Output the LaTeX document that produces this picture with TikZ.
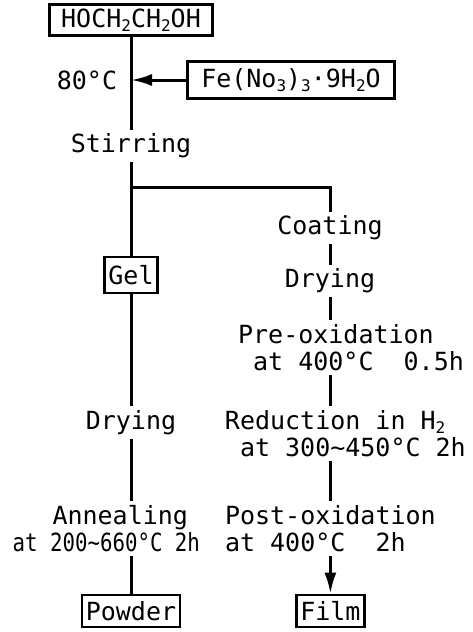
\documentclass[tikz,border=0pt]{standalone}
\usepackage{fontspec}
\usepackage{graphicx}
\setmonofont{DejaVu Sans Mono}
\usetikzlibrary{positioning, arrows.meta}
\newcommand{\chemsub}[1]{\raisebox{-0.15em}{\fontsize{16}{16}\selectfont #1}}

\begin{document}
\begin{tikzpicture}[x=1pt, y=1pt, on grid, >={Latex[length=21pt,width=12pt]}]
        \tikzstyle{chem} = [rectangle, draw=black, line width=2.6pt, minimum height=32pt, inner xsep=4pt, inner ysep=2pt, text centered, font=\ttfamily\fontsize{25}{27}\selectfont]
        \tikzstyle{stage} = [inner xsep=0pt, inner ysep=4pt, font=\ttfamily\fontsize{25}{27}\selectfont]
        \tikzstyle{link} = [line width=3pt]
        \tikzstyle{arrow} = [line width=3pt,->]

        \useasboundingbox (0,0) rectangle (473,-632);

        % Starting materials
        \node (top) [chem, minimum width=163pt, minimum height=31pt] at (131,-20) {HOCH\chemsub{2}CH\chemsub{2}OH};
        \node (fe) [chem, minimum width=207pt, minimum height=37pt, below right=60pt and 160pt of top] {Fe(No\chemsub{3})\chemsub{3}·9H\chemsub{2}O};
        \coordinate (j) at (top |- fe);
        \node (t80) [stage, below left=60pt and 44pt of top] {80°C};
        \node (stir) [stage, below=126pt of top] {Stirring};
        \coordinate [below=41pt of stir] (br);

        % Film route
        \node (coat) [stage, below right=82pt and 199pt of stir] {Coating};
        \node (dry2) [stage, below=53pt of coat] {Drying};
        \node (pre) [stage, align=left, below=66.5pt of dry2, xshift=21pt] {Pre-oxidation\\\ at 400°C\ \ 0.5h};
        \node (red) [stage, align=left, below=86pt of pre, xshift=-5.6pt] {Reduction in H\chemsub{2}\\\ at 300\textasciitilde450°C 2h};
        \node (post) [stage, align=left, below=95pt of red, xshift=-15pt] {Post-oxidation\\at 400°C\ \ 2h};
        \node (film) [chem, below=82.5pt of post] {Film};

        % Powder route
        \node (gel) [chem, minimum height=36pt, below=129pt of stir] {Gel};
        \node (dry1) [stage, below=147.6pt of gel] {Drying};
        \node (ann) [stage, align=right, below=106pt of dry1, xshift=-24.7pt] {Annealing\hspace*{12pt}\\\scalebox{0.83}[1]{at 200\textasciitilde660°C 2h}};
        \node (powder) [chem, below=82.5pt of ann, xshift=24.7pt] {Powder};

        % Connectors
        \draw [link] (top) -- (stir);
        \draw [arrow] (fe) -- (j);
        \draw [link] (stir) -- (gel);
        \draw [link] (br) -| (coat);
        \draw [link] (coat) -- (dry2);
        \draw [link] (dry2) -- (dry2 |- pre.north);
        \draw [link] (pre.south -| dry2) -- (red.north -| dry2);
        \draw [link] (red.south -| dry2) -- (post.north -| dry2);
        \draw [arrow] (post.south -| film) -- (film);
        \draw [link] (gel) -- (dry1);
        \draw [link] (dry1) -- (dry1 |- ann.north);
        \draw [link] (ann.south -| powder) -- (powder);
    \end{tikzpicture}
\end{document}
